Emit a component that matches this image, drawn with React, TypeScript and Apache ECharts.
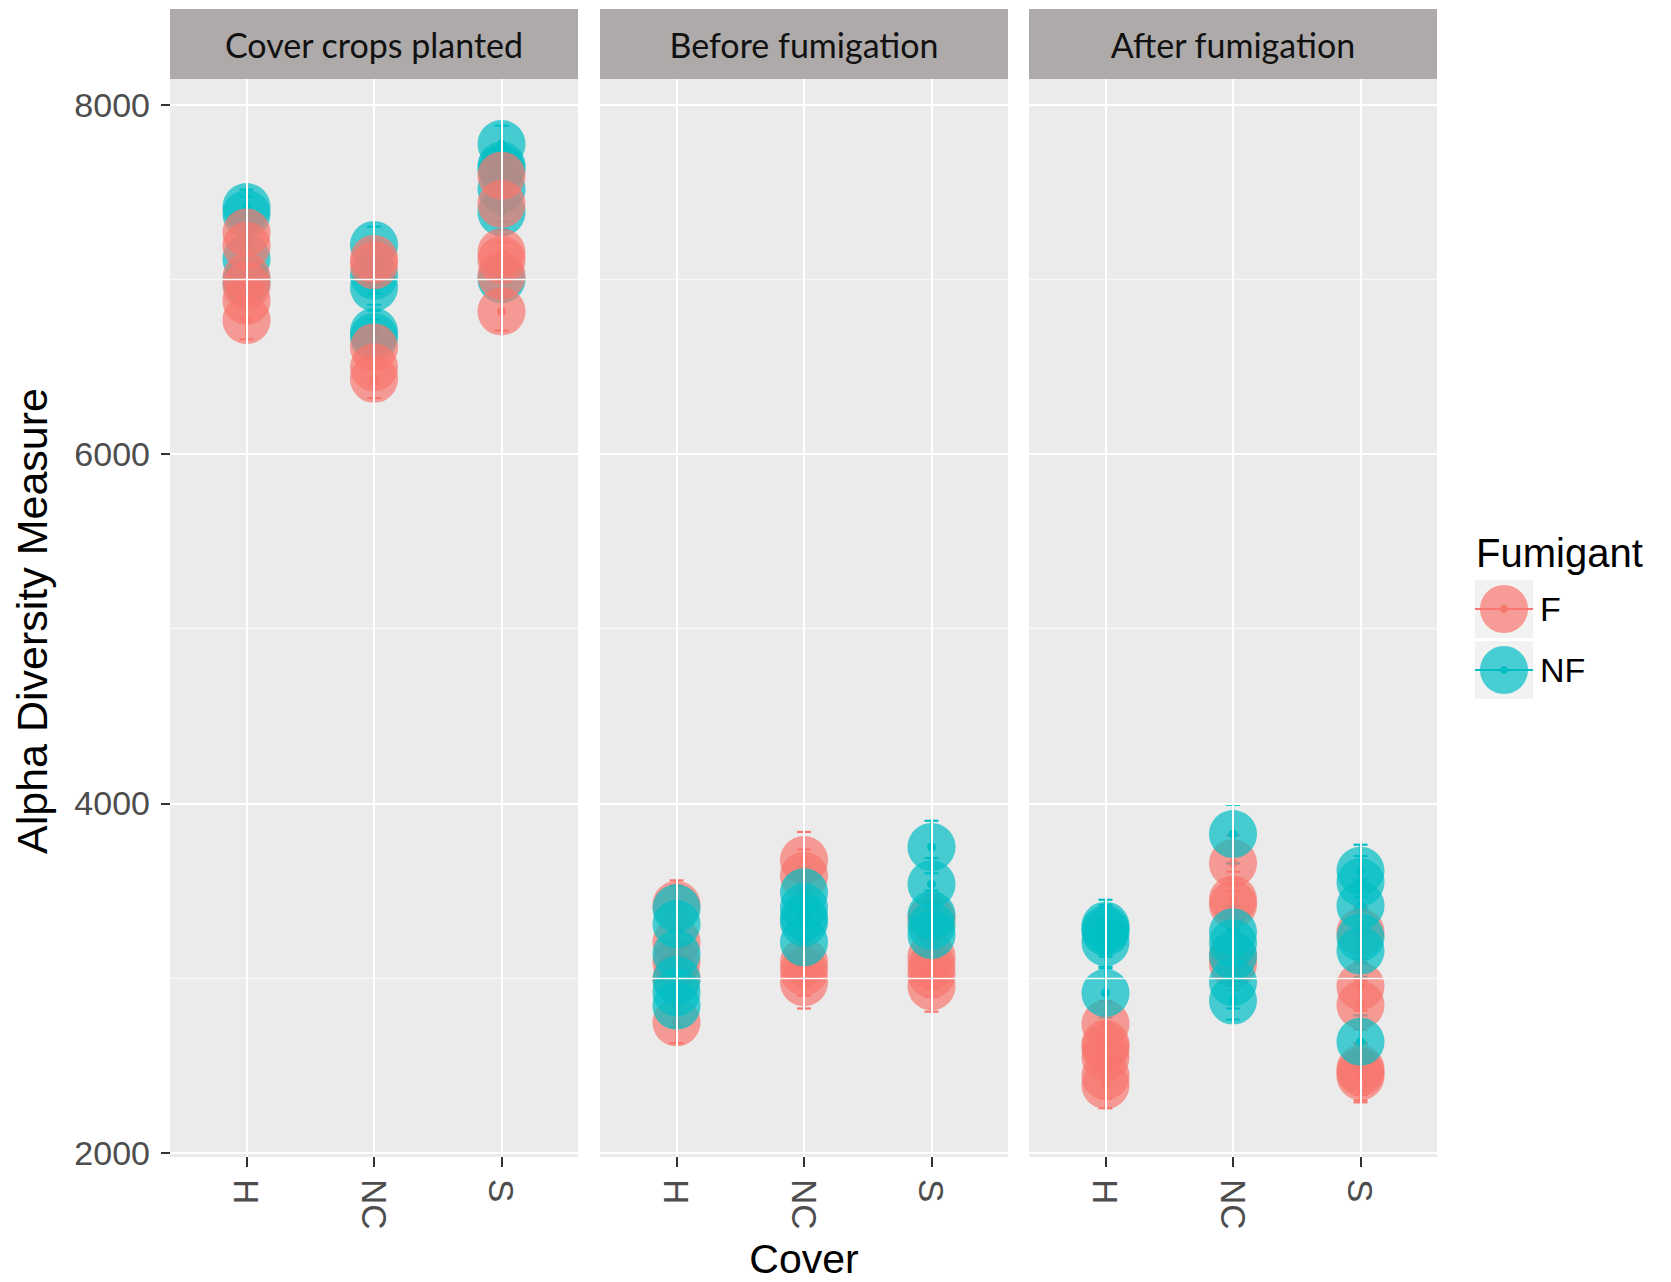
import React, { useEffect, useRef } from 'react';
import * as echarts from 'echarts';

// ---------- data ----------
const covers = ['H', 'NC', 'S'];
const panelTitles = ['Cover crops planted', 'Before fumigation', 'After fumigation'];
const fumigants = ['F', 'NF'];
const yTickValues = [2000, 4000, 6000, 8000];
const yMinorValues = [3000, 5000, 7000];

// each entry: [alpha diversity value, standard error]
const cropF_H = [[7268, 100], [7192, 100], [7011, 95], [6963, 100], [6877, 100], [6767, 110]];
const cropNF_H = [[7413, 100], [7373, 100], [7116, 100], [6990, 95]];
const cropF_NC = [[7116, 105], [7080, 100], [6610, 100], [6496, 95], [6430, 110]];
const cropNF_NC = [[7196, 105], [7020, 100], [6954, 100], [6700, 120], [6670, 100]];
const cropF_S = [[7593, 100], [7431, 100], [7154, 100], [7110, 100], [7020, 100], [6816, 110]];
const cropNF_S = [[7774, 105], [7650, 100], [7630, 105], [7516, 100], [7383, 100], [7000, 100]];

const beforeF_H = [[3420, 140], [3206, 130], [3091, 130], [3000, 130], [2748, 120]];
const beforeNF_H = [[3400, 130], [3310, 130], [3139, 125], [2990, 125], [2920, 125], [2843, 120]];
const beforeF_NC = [[3677, 160], [3587, 150], [3091, 140], [3040, 140], [2977, 150]];
const beforeNF_NC = [[3492, 145], [3406, 140], [3350, 140], [3320, 140], [3206, 140]];
const beforeF_S = [[3340, 140], [3123, 130], [3070, 130], [3024, 130], [2954, 145]];
const beforeNF_S = [[3751, 150], [3538, 150], [3362, 140], [3300, 140], [3247, 140]];

const afterF_H = [[2738, 130], [2624, 125], [2600, 125], [2548, 125], [2442, 130], [2389, 133]];
const afterNF_H = [[3301, 148], [3280, 140], [3263, 140], [3206, 140], [2916, 140]];
const afterF_NC = [[3658, 160], [3450, 160], [3420, 150], [3129, 150], [3081, 150]];
const afterNF_NC = [[3825, 168], [3263, 150], [3200, 150], [3129, 150], [2977, 150], [2872, 109]];
const afterF_S = [[3263, 150], [2954, 140], [2847, 140], [2481, 150], [2462, 160], [2440, 150]];
const afterNF_S = [[3615, 149], [3549, 150], [3415, 150], [3234, 150], [3158, 150], [2637, 150]];

const panelF = [
  [cropF_H, cropF_NC, cropF_S],
  [beforeF_H, beforeF_NC, beforeF_S],
  [afterF_H, afterF_NC, afterF_S],
];
const panelNF = [
  [cropNF_H, cropNF_NC, cropNF_S],
  [beforeNF_H, beforeNF_NC, beforeNF_S],
  [afterNF_H, afterNF_NC, afterNF_S],
];

// ---------- styling ----------
const COLORS: Record<string, string> = { F: '#F8766D', NF: '#00BFC4' };
const PANEL_BG = '#EBEBEB';
const STRIP_BG = '#AEAAA9';
const SANS = '"Liberation Sans", Arial, Helvetica, sans-serif';
const STRIP_FONT = 'Lato, "Open Sans", sans-serif';

const GRID_LEFTS = [170, 600, 1029];
const GRID_WIDTH = 408;
const GRID_TOP = 79;
const GRID_HEIGHT = 1078;
const Y_MIN = 1977;
const Y_MAX = 8146;

function toPoints(groups: number[][][]) {
  const out: number[][] = [];
  groups.forEach((g, ci) => g.forEach(([v, se]) => out.push([ci + 1, v, se])));
  return out;
}

function errorBarSeries(pi: number, fum: string, data: number[][]) {
  const color = COLORS[fum];
  return {
    type: 'custom',
    name: fum + '-err-' + pi,
    xAxisIndex: pi,
    yAxisIndex: pi,
    silent: true,
    z: 2,
    encode: { x: 0, y: 1 },
    data,
    renderItem: (params: any, api: any) => {
      const x = api.value(0);
      const v = api.value(1);
      const se = api.value(2);
      const top = api.coord([x, v + se]);
      const bot = api.coord([x, v - se]);
      const mid = api.coord([x, v]);
      const hw = 7;
      const st = { stroke: color, lineWidth: 2.2 };
      return {
        type: 'group',
        children: [
          { type: 'line', shape: { x1: top[0], y1: top[1], x2: bot[0], y2: bot[1] }, style: st },
          { type: 'line', shape: { x1: top[0] - hw, y1: top[1], x2: top[0] + hw, y2: top[1] }, style: st },
          { type: 'line', shape: { x1: bot[0] - hw, y1: bot[1], x2: bot[0] + hw, y2: bot[1] }, style: st },
          { type: 'circle', shape: { cx: mid[0], cy: mid[1], r: 4.5 }, style: { fill: color } },
        ],
      };
    },
  };
}

function pointSeries(pi: number, fum: string, data: number[][]) {
  return {
    type: 'scatter',
    name: fum,
    xAxisIndex: pi,
    yAxisIndex: pi,
    silent: true,
    z: 3,
    symbol: 'circle',
    symbolSize: 48,
    itemStyle: { color: COLORS[fum], opacity: 0.7 },
    emphasis: { disabled: true },
    data: data.map((d) => [d[0], d[1]]),
  };
}

function gridLineSeries(pi: number) {
  const lines: any[] = [];
  yTickValues.forEach((v) => lines.push({ yAxis: v, lineStyle: { width: 2, color: '#FFFFFF' } }));
  yMinorValues.forEach((v) => lines.push({ yAxis: v, lineStyle: { width: 1.3, color: '#F7F7F7' } }));
  covers.forEach((_, i) => lines.push({ xAxis: i + 1, lineStyle: { width: 2, color: '#FFFFFF' } }));
  return {
    type: 'scatter',
    name: 'grid-' + pi,
    xAxisIndex: pi,
    yAxisIndex: pi,
    silent: true,
    z: 1,
    data: [],
    markLine: {
      silent: true,
      symbol: ['none', 'none'],
      label: { show: false },
      lineStyle: { type: 'solid', color: '#FFFFFF', width: 2 },
      emphasis: { disabled: true },
      data: lines,
    },
  };
}

export default function App() {
  const ref = useRef<HTMLDivElement>(null);

  useEffect(() => {
    if (!ref.current) return;
    const chart = echarts.init(ref.current, undefined, { renderer: 'svg' });

    const grids = GRID_LEFTS.map((left) => ({
      left,
      top: GRID_TOP,
      width: GRID_WIDTH,
      height: GRID_HEIGHT,
      show: true,
      backgroundColor: PANEL_BG,
      borderWidth: 0,
      containLabel: false,
    }));

    const xAxes = GRID_LEFTS.map((_, pi) => ({
      type: 'value',
      gridIndex: pi,
      min: 0.4,
      max: 3.6,
      axisLine: { show: false },
      splitLine: { show: false },
      axisTick: {
        show: true,
        customValues: [1, 2, 3],
        length: 10,
        lineStyle: { color: '#333333', width: 2 },
      },
      axisLabel: {
        show: true,
        customValues: [1, 2, 3],
        formatter: (v: number) => covers[Math.round(v) - 1] ?? '',
        rotate: -90,
        margin: 22,
        fontSize: 35,
        fontFamily: SANS,
        color: '#4D4D4D',
      },
    }));

    const yAxes = GRID_LEFTS.map((_, pi) => ({
      type: 'value',
      gridIndex: pi,
      min: Y_MIN,
      max: Y_MAX,
      axisLine: { show: false },
      splitLine: { show: false },
      axisTick: {
        show: pi === 0,
        customValues: yTickValues,
        length: 9,
        lineStyle: { color: '#333333', width: 2 },
      },
      axisLabel: {
        show: pi === 0,
        customValues: yTickValues,
        formatter: (v: number) => String(Math.round(v)),
        margin: 20,
        fontSize: 34,
        fontFamily: SANS,
        color: '#4D4D4D',
      },
    }));

    const series: any[] = [];
    for (let pi = 0; pi < 3; pi++) {
      const fData = toPoints(panelF[pi]);
      const nfData = toPoints(panelNF[pi]);
      series.push(gridLineSeries(pi));
      series.push(errorBarSeries(pi, 'F', fData));
      series.push(errorBarSeries(pi, 'NF', nfData));
      if (pi === 0) {
        series.push(pointSeries(pi, 'NF', nfData));
        series.push(pointSeries(pi, 'F', fData));
      } else {
        series.push(pointSeries(pi, 'F', fData));
        series.push(pointSeries(pi, 'NF', nfData));
      }
    }

    const graphic: any[] = [];
    // facet strips
    GRID_LEFTS.forEach((left, pi) => {
      graphic.push({
        type: 'rect',
        shape: { x: left, y: 9, width: GRID_WIDTH, height: GRID_TOP - 9 },
        style: { fill: STRIP_BG },
        silent: true,
      });
      graphic.push({
        type: 'text',
        x: left + GRID_WIDTH / 2,
        y: 44,
        style: {
          text: panelTitles[pi],
          align: 'center',
          verticalAlign: 'middle',
          font: '34px ' + STRIP_FONT,
          fill: '#111111',
        },
        silent: true,
      });
    });
    // axis titles
    graphic.push({
      type: 'text',
      x: 32,
      y: 621,
      rotation: Math.PI / 2,
      style: {
        text: 'Alpha Diversity Measure',
        align: 'center',
        verticalAlign: 'middle',
        font: '43px ' + SANS,
        fill: '#000000',
      },
      silent: true,
    });
    graphic.push({
      type: 'text',
      x: GRID_LEFTS[1] + GRID_WIDTH / 2,
      y: 1259,
      style: {
        text: 'Cover',
        align: 'center',
        verticalAlign: 'middle',
        font: '41px ' + SANS,
        fill: '#000000',
      },
      silent: true,
    });
    // legend
    graphic.push({
      type: 'text',
      x: 1476,
      y: 553,
      style: { text: 'Fumigant', align: 'left', verticalAlign: 'middle', font: '40px ' + SANS, fill: '#000000' },
      silent: true,
    });
    fumigants.forEach((f, i) => {
      const top = 580 + i * 61;
      const cy = top + 29;
      const color = COLORS[f];
      graphic.push({ type: 'rect', shape: { x: 1475, y: top, width: 58, height: 58 }, style: { fill: '#F2F2F2' }, silent: true });
      graphic.push({ type: 'circle', shape: { cx: 1504, cy, r: 24 }, style: { fill: color, opacity: 0.7 }, silent: true });
      graphic.push({ type: 'line', shape: { x1: 1475, y1: cy, x2: 1533, y2: cy }, style: { stroke: color, lineWidth: 2 }, silent: true });
      graphic.push({ type: 'circle', shape: { cx: 1504, cy, r: 4 }, style: { fill: color }, silent: true });
      graphic.push({
        type: 'text',
        x: 1540,
        y: cy,
        style: { text: f, align: 'left', verticalAlign: 'middle', font: '34px ' + SANS, fill: '#000000' },
        silent: true,
      });
    });

    chart.setOption({
      animation: false,
      backgroundColor: '#FFFFFF',
      grid: grids,
      xAxis: xAxes,
      yAxis: yAxes,
      series,
      graphic,
    });

    return () => chart.dispose();
  }, []);

  return (
    <div
      ref={ref}
      style={{ position: 'absolute', left: 0, top: 0, width: 1671, height: 1282, background: '#FFFFFF' }}
    />
  );
}
